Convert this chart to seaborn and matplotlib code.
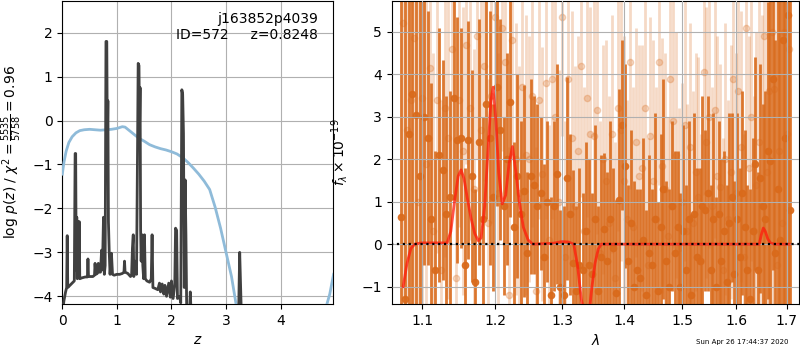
import numpy as np
import matplotlib
matplotlib.use("Agg")
import matplotlib.pyplot as plt
from matplotlib.ticker import NullLocator, NullFormatter
import seaborn as sns
import pandas as pd

# ---------------- left panel data ----------------
z_chi = [0.00, 0.03, 0.07, 0.12, 0.18, 0.25, 0.32, 0.40, 0.50, 0.60, 0.70, 0.80,
         0.90, 1.00, 1.05, 1.10, 1.15, 1.20, 1.30, 1.40, 1.50, 1.60, 1.70, 1.80,
         1.90, 2.00, 2.10, 2.20, 2.30, 2.40, 2.50, 2.60, 2.70, 2.80, 2.90, 3.00,
         3.10, 3.20, 4.82, 4.90, 4.97]
chi_curve = [-1.22, -0.95, -0.70, -0.50, -0.37, -0.28, -0.23, -0.21, -0.20, -0.21, -0.22, -0.21,
             -0.20, -0.18, -0.16, -0.14, -0.15, -0.20, -0.30, -0.40, -0.47, -0.55, -0.60, -0.64,
             -0.67, -0.71, -0.76, -0.84, -0.95, -1.08, -1.22, -1.38, -1.57, -1.97, -2.45, -3.00,
             -3.55, -4.30, -4.30, -3.95, -3.50]

z_pz = [0.00, 0.03, 0.06, 0.08, 0.09, 0.10, 0.14, 0.18, 0.22, 0.235, 0.245, 0.255,
        0.265, 0.275, 0.285, 0.295, 0.31, 0.32, 0.36, 0.42, 0.46, 0.47, 0.48, 0.56,
        0.59, 0.60, 0.615, 0.64, 0.66, 0.675, 0.70, 0.72, 0.735, 0.755, 0.77, 0.785,
        0.80, 0.815, 0.825, 0.835, 0.845, 0.86, 0.875, 0.90, 0.92, 0.95, 1.00, 1.05,
        1.10, 1.13, 1.14, 1.15, 1.20, 1.25, 1.27, 1.285, 1.30, 1.31, 1.33, 1.36,
        1.38, 1.39, 1.405, 1.415, 1.425, 1.435, 1.445, 1.46, 1.475, 1.49, 1.505, 1.52,
        1.55, 1.60, 1.63, 1.645, 1.66, 1.70, 1.75, 1.78, 1.80, 1.83, 1.86, 1.88,
        1.91, 1.95, 1.98, 2.00, 2.03, 2.06, 2.075, 2.095, 2.11, 2.15, 2.17, 2.19,
        2.205, 2.22, 2.235, 2.25, 2.265, 2.28, 2.33, 2.345, 2.36, 3.23, 3.25, 3.265,
        3.28, 4.97]
log_pz = [-4.40, -4.10, -3.90, -3.80, -2.62, -3.80, -3.75, -3.70, -3.65, -0.75, -0.75, -3.40,
          -2.20, -3.60, -2.30, -3.50, -2.30, -3.60, -3.58, -3.56, -3.56, -3.15, -3.55, -3.55,
          -3.52, -3.25, -3.50, -3.48, -3.25, -3.45, -3.45, -2.95, -3.40, -2.20, -3.50, -3.30,
          1.80, 1.80, -0.50, 0.45, -2.30, -3.00, -3.50, -3.02, -3.50, -3.52, -3.50, -3.50,
          -3.48, -3.45, -3.20, -3.45, -3.48, -3.55, -3.50, -2.90, -2.60, -3.55, -3.20, -3.50,
          -0.40, 1.30, 1.25, -0.20, 0.75, -2.50, -3.20, -2.60, -3.30, -3.60, -2.60, -3.60,
          -3.65, -3.68, -3.60, -2.60, -3.80, -3.82, -3.85, -3.70, -3.90, -3.72, -3.95, -3.75,
          -4.00, -3.70, -4.02, -3.65, -4.05, -3.75, -2.45, -2.50, -4.05, -4.00, -4.15, 0.70,
          0.60, -0.30, -3.80, -1.35, -2.60, -4.40, -4.40, -3.90, -4.40, -4.40, -3.00, -3.70,
          -4.40, -4.40]

# ---------------- right panel data ----------------
wave_a = [1.072, 1.077, 1.082, 1.087, 1.092, 1.097, 1.102, 1.107, 1.112, 1.117,
          1.122, 1.127, 1.132, 1.137, 1.142, 1.147, 1.152, 1.157, 1.162, 1.167,
          1.172, 1.177, 1.182, 1.187, 1.192, 1.197, 1.202, 1.207, 1.212, 1.217,
          1.222, 1.227, 1.232, 1.237, 1.242, 1.247, 1.252, 1.257, 1.262, 1.267,
          1.272, 1.277, 1.282, 1.287, 1.292, 1.297, 1.302, 1.307, 1.312, 1.317,
          1.322, 1.327, 1.332, 1.337, 1.342, 1.347, 1.352, 1.357, 1.362, 1.367,
          1.372, 1.377, 1.382, 1.387, 1.392, 1.397, 1.402, 1.407, 1.412, 1.417,
          1.422, 1.427, 1.432, 1.437, 1.442, 1.447, 1.452, 1.457, 1.462, 1.467,
          1.472, 1.477, 1.482, 1.487, 1.492, 1.497, 1.502, 1.507, 1.512, 1.517,
          1.522, 1.527, 1.532, 1.537, 1.542, 1.547, 1.552, 1.557, 1.562, 1.567,
          1.572, 1.577, 1.582, 1.587, 1.592, 1.597, 1.602, 1.607, 1.612, 1.617,
          1.622, 1.627, 1.632, 1.637, 1.642, 1.647, 1.652, 1.657, 1.662, 1.667,
          1.672, 1.677, 1.682, 1.687, 1.692, 1.697, 1.702, 1.707]
flux_a = [0.65, -1.3, 2.6, 3.55, 3.05, 1.6, 3.0, 2.5, 0.6, -0.6,
          2.1, 1.75, 0.7, 1.1, 3.45, 2.45, 2.5, -0.5, 2.45, 1.6,
          -0.9, 2.4, 0.6, 3.3, 2.5, 1.1, 3.7, 2.7, 0.9, 2.0,
          3.35, 0.4, 1.6, 0.7, 1.25, -0.2, 1.6, 1.4, 0.9, 1.2,
          -0.3, 1.0, -1.2, 0.9, 1.65, -1.0, -1.2, 1.55, 0.7, -0.45,
          -1.1, -0.5, -0.6, 0.3, -0.5, -0.7, 0.6, -1.1, -0.3, 0.35,
          -0.4, 0.6, -0.1, -1.15, 1.05, 2.8, 1.85, -0.4, 0.5, -1.0,
          -0.6, -0.8, 0.1, -1.2, -0.2, -0.5, 0.6, -1.1, 0.4, 1.3,
          -0.4, -1.0, 0.9, -0.2, 0.4, -1.0, 0.3, -0.6, 0.6, -1.2,
          0.7, -0.3, -0.4, 0.9, 0.8, 1.2, -0.6, 0.6, -1.0, 0.7,
          -0.4, 0.3, -0.9, 0.5, 1.1, -0.7, 0.6, -0.3, 1.2, 0.4,
          -0.6, -1.3, 0.3, 1.9, -0.6, 1.55, 0.9, 0.6, 2.2, 1.95,
          3.9, -0.2, 1.3, 0.1, 4.8, 2.5, 5.4, 0.8]
err_a = [9.0, 9.0, 9.0, 9.0, 9.0, 9.0, 3.5, 3.0, 3.2, 2.8,
         3.0, 2.6, 2.8, 2.5, 2.4, 2.9, 2.6, 2.3, 2.8, 2.5,
         2.2, 2.9, 2.4, 2.7, 3.0, 2.2, 2.8, 2.6, 2.1, 2.5,
         2.7, 2.0, 2.4, 2.2, 2.5, 1.9, 2.3, 2.1, 2.4, 1.8,
         2.2, 1.9, 2.3, 2.0, 2.6, 1.8, 2.1, 2.4, 1.9, 2.2,
         2.0, 2.3, 1.8, 2.1, 2.5, 1.9, 2.2, 2.0, 2.4, 1.8,
         2.1, 2.3, 1.9, 2.2, 2.6, 2.0, 2.4, 1.8, 2.2, 2.5,
         1.9, 2.1, 2.4, 2.0, 2.3, 1.8, 2.5, 2.1, 2.2, 2.6,
         1.9, 2.3, 2.0, 2.4, 1.8, 2.2, 2.5, 2.0, 2.3, 1.9,
         2.4, 2.1, 2.2, 2.6, 1.9, 2.3, 2.0, 2.5, 2.1, 2.2,
         2.4, 1.9, 2.3, 2.6, 2.0, 2.2, 2.5, 2.1, 2.4, 2.3,
         2.0, 2.6, 2.2, 2.5, 2.3, 2.7, 2.4, 3.0, 3.5, 4.0,
         4.5, 5.0, 6.0, 7.0, 8.0, 9.0, 9.0, 9.0]

wave_b = [1.0745, 1.0795, 1.0845, 1.0895, 1.0945, 1.0995, 1.1045, 1.1095, 1.1145, 1.1195,
          1.1245, 1.1295, 1.1345, 1.1395, 1.1445, 1.1495, 1.1545, 1.1595, 1.1645, 1.1695,
          1.1745, 1.1795, 1.1845, 1.1895, 1.1945, 1.1995, 1.2045, 1.2095, 1.2145, 1.2195,
          1.2245, 1.2295, 1.2345, 1.2395, 1.2445, 1.2495, 1.2545, 1.2595, 1.2645, 1.2695,
          1.2745, 1.2795, 1.2845, 1.2895, 1.2945, 1.2995, 1.3045, 1.3095, 1.3145, 1.3195,
          1.3245, 1.3295, 1.3345, 1.3395, 1.3445, 1.3495, 1.3545, 1.3595, 1.3645, 1.3695,
          1.3745, 1.3795, 1.3845, 1.3895, 1.3945, 1.3995, 1.4045, 1.4095, 1.4145, 1.4195,
          1.4245, 1.4295, 1.4345, 1.4395, 1.4445, 1.4495, 1.4545, 1.4595, 1.4645, 1.4695,
          1.4745, 1.4795, 1.4845, 1.4895, 1.4945, 1.4995, 1.5045, 1.5095, 1.5145, 1.5195,
          1.5245, 1.5295, 1.5345, 1.5395, 1.5445, 1.5495, 1.5545, 1.5595, 1.5645, 1.5695,
          1.5745, 1.5795, 1.5845, 1.5895, 1.5945, 1.5995, 1.6045, 1.6095, 1.6145, 1.6195,
          1.6245, 1.6295, 1.6345, 1.6395, 1.6445, 1.6495, 1.6545, 1.6595, 1.6645, 1.6695,
          1.6745, 1.6795, 1.6845, 1.6895, 1.6945, 1.6995, 1.7045]
flux_b = [5.2, 2.7, 3.4, 4.85, 1.0, 3.45,
          1.9, 4.15, 0.3, 3.4, -0.6, 3.2, 2.5, 4.6, -0.8, 3.4,
          2.2, 4.7, 3.2, 1.3, 4.9, 2.7, 4.2, 0.5, 3.5, 5.35,
          1.2, 5.1, 4.3, -1.2, 4.8, 2.0, 1.2, 3.7, 2.1, 2.0,
          3.5, -1.1, 3.4, 1.65, 3.8, 0.1, 3.9, 3.0, 1.0, 5.35,
          -0.3, 3.9, 2.5, 0.9, 2.2, 4.2, 0.3, 3.45, 2.6, 2.55,
          3.15, -0.2, 2.0, 1.5, 0.5, 2.6, -0.8, 3.2, 2.7, 1.5,
          0.6, 4.3, 0.4, 2.4, 1.6, 1.8, 3.2, -0.5, 2.55, 1.5,
          0.6, 4.3, 1.85, 1.3, 0.2, 3.9, 2.9, 2.1, -0.1, 1.0,
          2.8, 0.3, 2.3, 0.5, 1.7, 1.1, -0.4, 4.05, 2.4, 3.0,
          0.9, 3.15, 1.6, 1.35, -0.6, 2.0, 0.6, 1.7, 3.9, 1.2,
          3.6, 2.3, -0.3, 5.1, 1.8, 3.0, 0.3, 1.4, 2.4, 0.9,
          4.9, 1.7, 3.6, 5.0, 3.65, -0.5, 2.2, 0.5, 5.0, 2.6, 4.6]
err_b = [9.0, 9.0, 9.0, 9.0, 9.0, 9.0,
         4.0, 3.8, 4.2, 3.6, 4.0, 3.5, 3.8, 3.4, 3.2, 3.0,
         3.4, 2.8, 3.1, 3.3, 2.9, 3.2, 2.7, 3.4, 3.0, 2.8,
         3.3, 2.9, 3.1, 3.5, 2.8, 3.2, 3.0, 2.7, 3.3, 2.9,
         3.1, 3.4, 2.8, 3.0, 3.2, 2.7, 3.3, 2.9, 3.1, 2.8,
         3.2, 2.9, 3.0, 3.3, 2.7, 3.1, 3.4, 2.8, 3.0, 3.2,
         2.9, 3.1, 2.7, 3.3, 3.0, 2.8, 3.2, 2.9, 3.1, 3.4,
         2.8, 3.0, 3.3, 2.7, 3.1, 2.9, 3.2, 3.0, 2.8, 3.3,
         3.1, 2.9, 3.0, 3.2, 2.8, 3.1, 3.0, 2.9, 3.3, 2.8,
         3.2, 3.0, 2.9, 3.1, 2.8, 3.3, 3.0, 2.9, 3.2, 3.1,
         2.8, 3.0, 3.3, 2.9, 3.1, 3.2, 2.8, 3.0, 3.1, 3.3,
         3.0, 3.2, 2.9, 3.3, 3.1, 3.4, 3.2, 3.6, 4.0, 4.5,
         5.0, 5.5, 6.0, 6.5, 7.0, 7.5, 8.0, 8.5, 9.0, 9.0, 9.0]

wave_model = [1.075, 1.080, 1.085, 1.090, 1.095, 1.100, 1.133, 1.138, 1.143, 1.148,
              1.152, 1.156, 1.161, 1.166, 1.171, 1.176, 1.180, 1.185, 1.190, 1.194,
              1.197, 1.201, 1.205, 1.210, 1.215, 1.220, 1.225, 1.230, 1.235, 1.241,
              1.248, 1.255, 1.285, 1.300, 1.310, 1.318, 1.324, 1.330, 1.336, 1.342,
              1.347, 1.352, 1.357, 1.362, 1.645, 1.649, 1.653, 1.657, 1.662, 1.667,
              1.675, 1.705]
flux_model = [-1.00, -0.45, -0.10, 0.00, 0.02, 0.03, 0.03, 0.30, 1.00, 1.60,
              1.75, 1.55, 1.05, 0.60, 0.25, 0.08, 0.15, 0.90, 2.30, 3.40,
              3.70, 2.90, 1.70, 0.95, 1.15, 1.90, 2.30, 1.70, 1.00, 0.40,
              0.10, 0.00, 0.02, 0.06, 0.05, 0.00, -0.50, -1.30, -1.70, -1.70,
              -1.00, -0.45, -0.12, 0.00, 0.00, 0.22, 0.38, 0.30, 0.12, 0.03,
              0.00, 0.00]

# ---------------- figure ----------------
fig = plt.figure(figsize=(8, 3.5), dpi=100)
W, H = 800.0, 350.0
ax1 = fig.add_axes([62.3 / W, 1 - 304 / H, (333.3 - 62.3) / W, 303 / H])
ax2 = fig.add_axes([391.7 / W, 1 - 304 / H, (799 - 391.7) / W, 303 / H])

# left panel
df_chi = pd.DataFrame({"z": z_chi, "v": chi_curve})
df_pz = pd.DataFrame({"z": z_pz, "v": log_pz})
sns.lineplot(data=df_chi, x="z", y="v", ax=ax1, color="#8fbbd9", lw=2, zorder=3)
sns.lineplot(data=df_pz, x="z", y="v", ax=ax1, color="#404040", lw=2, zorder=4)
ax1.set_xlim(0, 4.965)
ax1.set_ylim(-4.175, 2.72)
ax1.set_xticks([0, 1, 2, 3, 4])
ax1.set_yticks([-4, -3, -2, -1, 0, 1, 2])
ax1.grid(True, color="#b0b0b0", lw=0.8)
ax1.set_xlabel(r"$z$")
ax1.set_ylabel(r"log $p(z)$ / $\chi^2=\frac{5535}{5758}=0.96$")
ax1.yaxis.set_label_coords(-0.14, 0.5)
ax1.text(0.944, 0.965, "j163852p4039\nID=572     z=0.8248", transform=ax1.transAxes,
         ha="right", va="top", fontsize=10)

# right panel
col = "#d96a1b"
ax2.errorbar(wave_b, flux_b, yerr=err_b, fmt="o", color=col, ms=4.5, elinewidth=2,
             alpha=0.25, zorder=1)
ax2.errorbar(wave_a, flux_a, yerr=err_a, fmt="o", color=col, ms=4.5, elinewidth=2,
             alpha=0.9, zorder=2)
df_model = pd.DataFrame({"w": wave_model, "f": flux_model})
sns.lineplot(data=df_model, x="w", y="f", ax=ax2, color="#ff1a0a", lw=2, alpha=0.75, zorder=5)
ax2.plot([1.06, 1.725], [0, 0], color="k", ls=":", lw=1.6, zorder=6)
ax2.set_xscale("log")
ax2.set_xlim(1.0604, 1.725)
ax2.set_ylim(-1.41, 5.73)
ax2.set_xticks([1.1, 1.2, 1.3, 1.4, 1.5, 1.6, 1.7])
ax2.set_xticklabels(["1.1", "1.2", "1.3", "1.4", "1.5", "1.6", "1.7"])
ax2.xaxis.set_minor_locator(NullLocator())
ax2.xaxis.set_minor_formatter(NullFormatter())
ax2.set_yticks([-1, 0, 1, 2, 3, 4, 5])
ax2.set_axisbelow(False)
ax2.grid(True, color="#b0b0b0", lw=0.8, zorder=4)
ax2.set_xlabel(r"$\lambda$")
ax2.set_ylabel(r"$f_\lambda\times10^{-19}$")
ax2.yaxis.set_label_coords(-0.102, 0.5)

fig.text(0.985, 0.023, "Sun Apr 26 17:44:37 2020", ha="right", va="center", fontsize=5)

fig.savefig("out.png", dpi=100)
